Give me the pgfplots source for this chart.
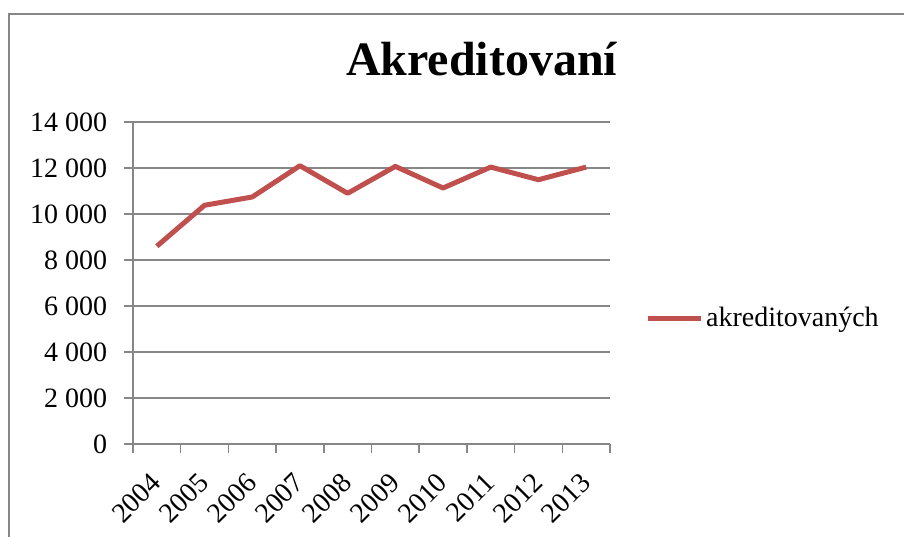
\documentclass[border=0pt]{standalone}
\usepackage{fontspec}
\setmainfont{Liberation Serif}
\usepackage{pgfplots}
\pgfplotsset{compat=1.18}
\definecolor{linered}{HTML}{C0504D}
\definecolor{gridgray}{HTML}{878787}
\begin{document}
\begin{tikzpicture}
\path[use as bounding box] (0pt,0pt) rectangle (678pt,-402pt);
\draw[gridgray, line width=1.5pt] (6.75pt,-420pt) -- (6.75pt,-10.5pt) -- (690pt,-10.5pt);
\begin{axis}[
  at={(99.75pt,-333pt)}, anchor=south west,
  scale only axis, width=357.75pt, height=241.5pt,
  xmin=-0.5, xmax=9.5, ymin=0, ymax=14000,
  scaled y ticks=false,
  axis x line*=bottom, axis y line*=left,
  axis line style={gridgray, line width=1.1pt, -},
  xtick={0,...,9},
  xticklabels={2004,2005,2006,2007,2008,2009,2010,2011,2012,2013},
  minor xtick={-0.5,0.5,...,9.5},
  major x tick style={draw=none},
  minor x tick style={gridgray, line width=1.1pt},
  ytick={0,2000,...,14000},
  yticklabels={0,2 000,4 000,6 000,8 000,10 000,12 000,14 000},
  y tick style={gridgray, line width=1.1pt},
  tick align=outside,
  major tick length=6.75pt, minor tick length=6.75pt,
  ymajorgrids, grid style={gridgray, line width=1.1pt},
  tick label style={font=\fontsize{21}{25}\selectfont},
  yticklabel style={inner sep=0pt, xshift=-12.5pt},
  xticklabel style={xshift=-5.5pt, yshift=-13.5pt, rotate=45, anchor=north east, inner sep=0pt},
  title={Akreditovaní},
  title style={at={(axis description cs:0.731,1.120)}, anchor=base, font=\fontsize{36}{40}\selectfont\bfseries, inner sep=0pt},
  legend style={at={(axis description cs:1.073,0.391)}, anchor=west, draw=none, fill=none, inner sep=0pt, font=\fontsize{21}{25}\selectfont, legend cell align=left},
  legend image code/.code={\draw[linered, line width=3.75pt] (0pt,0pt) -- (40pt,0pt);},
]
\addplot[linered, line width=3.75pt, line join=round] coordinates {
(0,8600) (1,10380) (2,10740) (3,12100) (4,10900) (5,12070) (6,11130) (7,12040) (8,11490) (9,12040)
};
\addlegendentry{akreditovaných}
\end{axis}
\end{tikzpicture}
\end{document}
